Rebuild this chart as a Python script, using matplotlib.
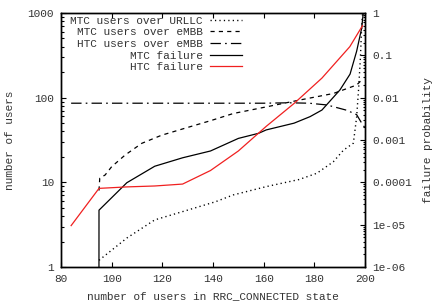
import matplotlib
matplotlib.use("Agg")
import matplotlib.pyplot as plt
from matplotlib.ticker import NullFormatter, LogLocator

# users per slice (left axis)
x_urllc = [95, 106, 117, 130, 141, 148, 161, 174, 181, 187.5, 191.5, 195.4, 196.7, 197.5, 198.2, 198.7, 199.2]
mtc_urllc = [1.2, 2.2, 3.6, 4.7, 5.9, 7.1, 8.9, 10.8, 12.8, 17.5, 24, 29, 59, 130, 300, 720, 1100]

x_embb = [95, 95.3, 97.4, 100, 105.3, 111.9, 119.7, 129, 139.5, 148, 161.2, 174.4, 187.5, 196.7, 199]
mtc_embb = [8, 11.2, 12.2, 15.3, 21, 28.9, 36, 43.6, 54, 65, 78, 94, 112, 141, 165]

x_htc = [84, 100, 120, 140, 160, 170, 178, 185, 192.8, 196.7, 198.7, 200]
htc_embb = [86, 86, 86, 86, 86, 87, 86, 82, 71, 63, 50, 44]

# failure probability (right axis)
x_mtc_fail = [84, 95, 106, 117, 128, 139, 150, 158, 161, 172, 178.3, 183, 190.1, 194.1, 196.7, 198.7, 199.3]
mtc_fail = [0, 2.2e-5, 9.8e-5, 2.4e-4, 3.8e-4, 5.5e-4, 1.09e-3, 1.44e-3, 1.73e-3, 2.5e-3, 3.56e-3, 5.1e-3, 0.0152, 0.036, 0.125, 0.44, 1.0]

x_htc_fail = [84, 95, 106, 117, 128, 139, 150, 161, 172, 183, 194, 199]
htc_fail = [9.5e-6, 7.2e-5, 7.8e-5, 8.2e-5, 9.1e-5, 1.9e-4, 5.5e-4, 2.1e-3, 7.3e-3, 0.029, 0.16, 0.5]

left_ticks = [1, 10, 100, 1000]
left_labels = ["1", "10", "100", "1000"]
right_ticks = [1e-6, 1e-5, 1e-4, 1e-3, 1e-2, 1e-1, 1]
right_labels = ["1e-06", "1e-05", "0.0001", "0.001", "0.01", "0.1", "1"]
x_ticks = [80, 100, 120, 140, 160, 180, 200]

plt.rcParams["font.family"] = ["Liberation Mono", "DejaVu Sans Mono"]
plt.rcParams["font.size"] = 8
plt.rcParams["lines.scale_dashes"] = False
txt = "#333333"

fig = plt.figure(figsize=(4.34, 3.03), dpi=100)
ax = fig.add_axes([61 / 434, 36 / 303, 304 / 434, 254 / 303])
ax2 = ax.twinx()

l1, = ax.plot(x_urllc, mtc_urllc, color="black", lw=1.0, linestyle=(0, (0.9, 2.3)), label="MTC users over URLLC")
l2, = ax.plot(x_embb, mtc_embb, color="black", lw=0.9, linestyle=(0, (3, 3)), label="MTC users over eMBB")
l3, = ax.plot(x_htc, htc_embb, color="black", lw=0.9, linestyle=(0, (7.5, 3, 1.2, 3)), label="HTC users over eMBB")
l4, = ax2.plot(x_mtc_fail, mtc_fail, color="black", lw=0.9, label="MTC failure")
l5, = ax2.plot(x_htc_fail, htc_fail, color="#f02020", lw=0.9, label="HTC failure")

ax.set_xlim(80, 200)
ax.set_yscale("log", nonpositive="clip")
ax.set_ylim(1, 1000)
ax2.set_yscale("log", nonpositive="clip")
ax2.set_ylim(1e-6, 1)

ax.set_xticks(x_ticks)
ax.set_yticks(left_ticks, left_labels)
ax2.set_yticks(right_ticks, right_labels)
for a in (ax, ax2):
    a.yaxis.set_minor_locator(LogLocator(base=10, subs=range(2, 10), numticks=20))
    a.yaxis.set_minor_formatter(NullFormatter())

ax.tick_params(axis="x", which="both", direction="in", top=True, length=3.5, width=0.8, pad=5, labelcolor=txt)
ax.tick_params(axis="y", which="major", direction="in", right=False, length=3.5, width=0.8, pad=5, labelcolor=txt)
ax.tick_params(axis="y", which="minor", direction="in", right=False, length=1.8, width=0.8)
ax2.tick_params(axis="y", which="major", direction="in", length=3.5, width=0.8, pad=5, labelcolor=txt)
ax2.tick_params(axis="y", which="minor", direction="in", length=1.8, width=0.8)

for a in (ax, ax2):
    for s in a.spines.values():
        s.set_linewidth(1.0)

ax.set_xlabel("number of users in RRC_CONNECTED state", color=txt)
ax.set_ylabel("number of users", color=txt)
ax2.set_ylabel("failure probability", color=txt, rotation=90)
ax.xaxis.set_label_coords(0.5, -0.095)
ax.yaxis.set_label_coords(-0.15, 0.5)
ax2.yaxis.set_label_coords(1.19, 0.5)

ax2.legend(handles=[l1, l2, l3, l4, l5], loc="upper right", bbox_to_anchor=(0.595, 0.99),
           frameon=False, markerfirst=False, borderpad=0, borderaxespad=0,
           handlelength=2.9, handletextpad=0.6, labelspacing=0.15, labelcolor=txt)

fig.savefig("out.png", dpi=100)
